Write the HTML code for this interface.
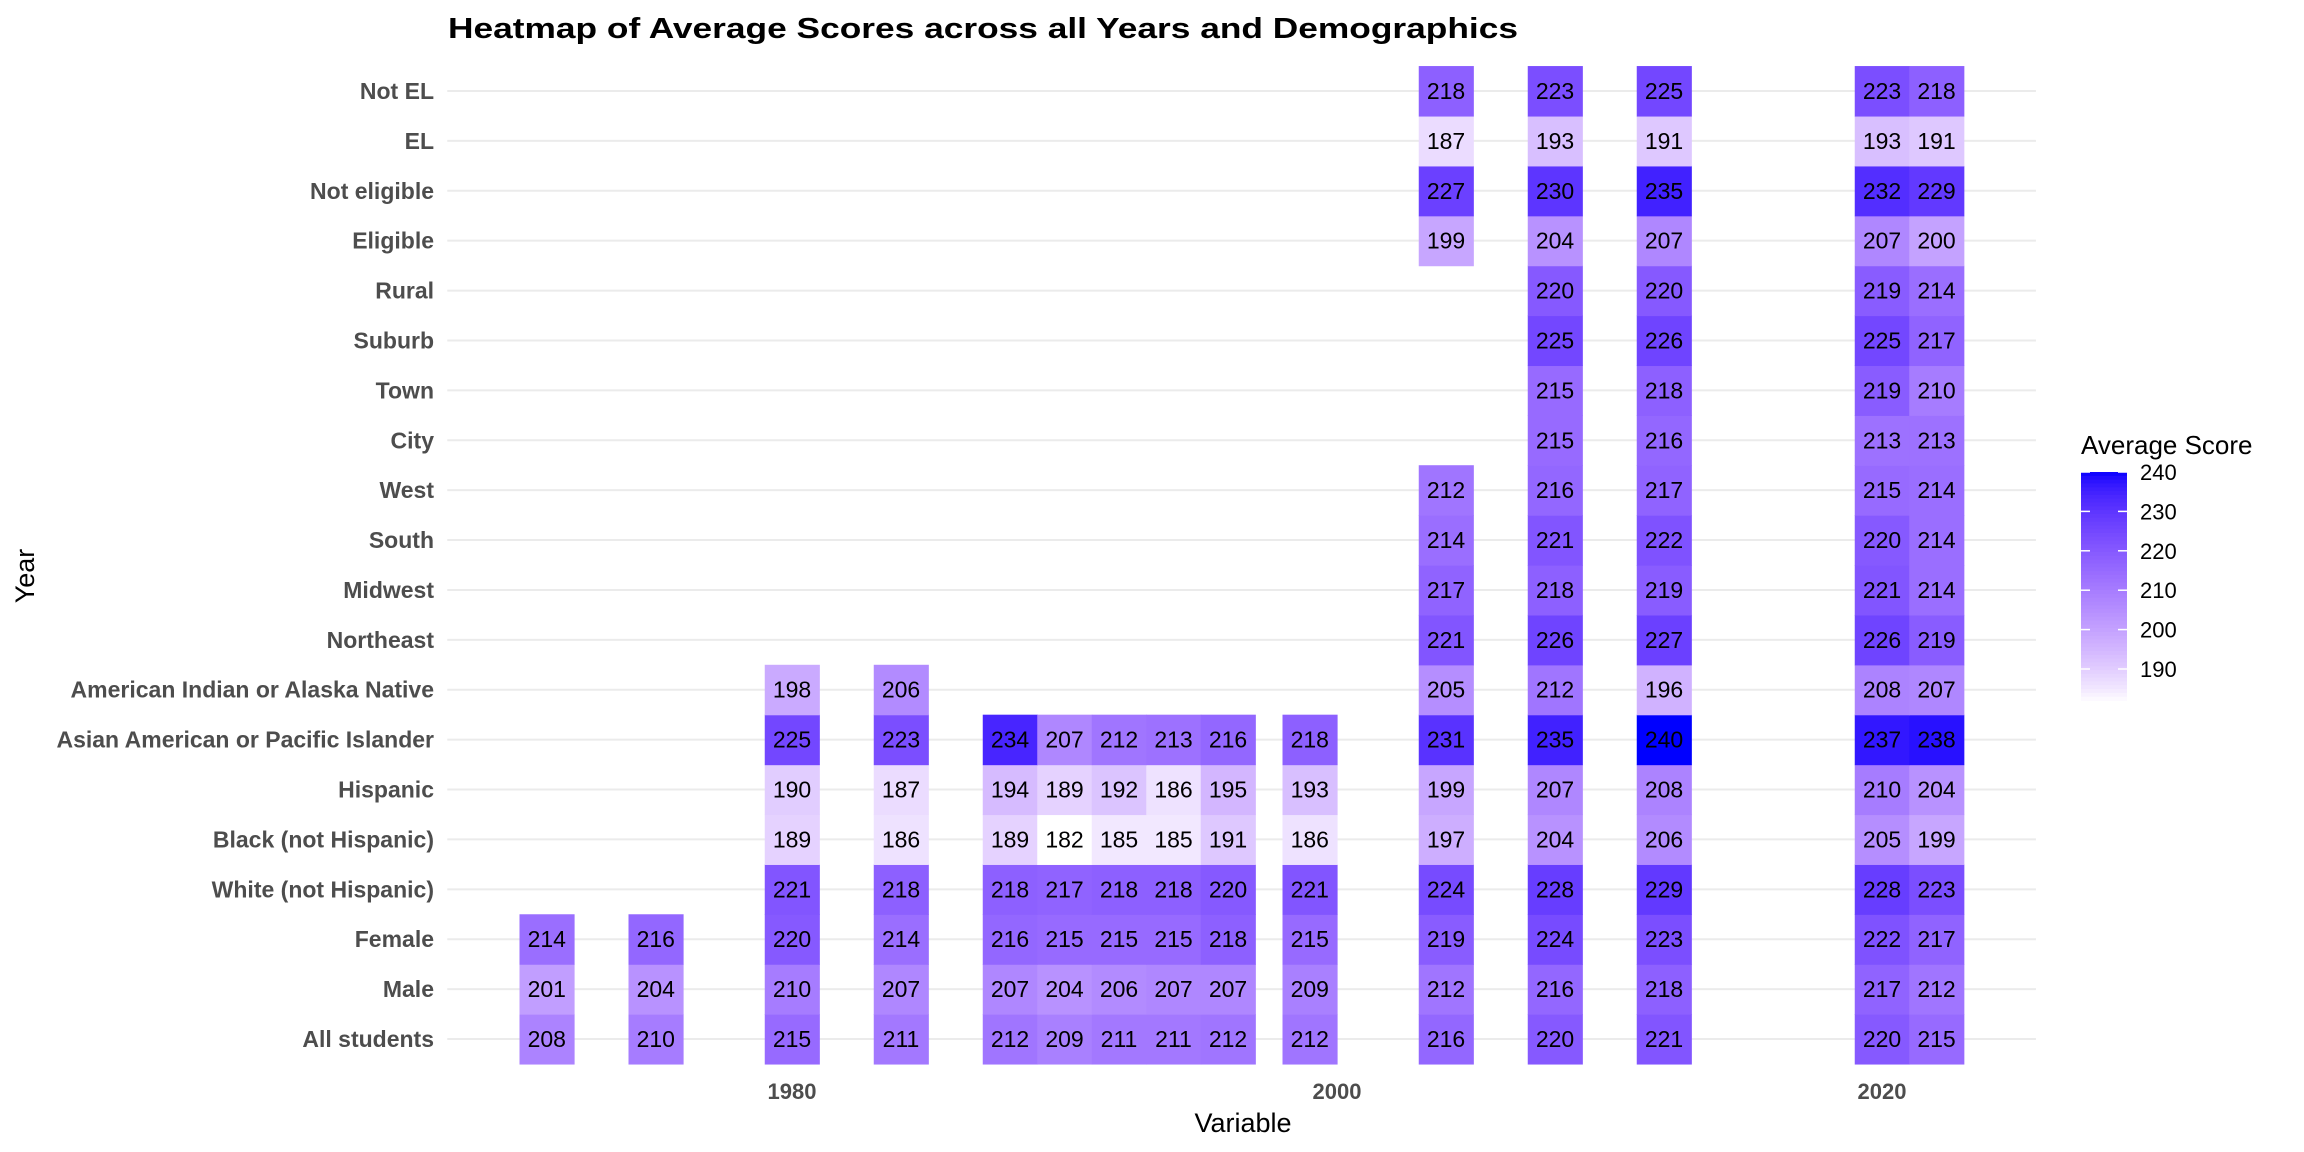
<!DOCTYPE html>
<html><head><meta charset="utf-8"><style>
html,body{margin:0;padding:0;background:#fff;}
svg{display:block;font-family:"Liberation Sans",Arial,sans-serif;}
</style></head><body>
<svg id="chart" width="2304" height="1152" viewBox="0 0 2304 1152" xmlns="http://www.w3.org/2000/svg">
<text x="448" y="38" font-size="29" font-weight="bold" fill="#000" textLength="1070" lengthAdjust="spacingAndGlyphs">Heatmap of Average Scores across all Years and Demographics</text>
<g id="grid"></g>
<g id="cells"></g>
<g id="ylabels"></g>
<g id="xlabels"></g>
<text x="1243" y="1132" font-size="27" text-anchor="middle" fill="#000">Variable</text>
<text transform="translate(34,576) rotate(-90)" font-size="27" text-anchor="middle" fill="#000">Year</text>
<g id="legend">
<text x="2081" y="454" font-size="26" fill="#000">Average Score</text>
</g>
</svg>
<script>
const years = [1971,1975,1980,1984,1988,1990,1992,1994,1996,1999,2004,2008,2012,2020,2022];
const groups = ["All students","Male","Female","White (not Hispanic)","Black (not Hispanic)","Hispanic","Asian American or Pacific Islander","American Indian or Alaska Native","Northeast","Midwest","South","West","City","Town","Suburb","Rural","Eligible","Not eligible","EL","Not EL"];
const N = null;
const allStudents = [208,210,215,211,212,209,211,211,212,212,216,220,221,220,215];
const male = [201,204,210,207,207,204,206,207,207,209,212,216,218,217,212];
const female = [214,216,220,214,216,215,215,215,218,215,219,224,223,222,217];
const white = [N,N,221,218,218,217,218,218,220,221,224,228,229,228,223];
const black = [N,N,189,186,189,182,185,185,191,186,197,204,206,205,199];
const hispanic = [N,N,190,187,194,189,192,186,195,193,199,207,208,210,204];
const asian = [N,N,225,223,234,207,212,213,216,218,231,235,240,237,238];
const amIndian = [N,N,198,206,N,N,N,N,N,N,205,212,196,208,207];
const northeast = [N,N,N,N,N,N,N,N,N,N,221,226,227,226,219];
const midwest = [N,N,N,N,N,N,N,N,N,N,217,218,219,221,214];
const south = [N,N,N,N,N,N,N,N,N,N,214,221,222,220,214];
const west = [N,N,N,N,N,N,N,N,N,N,212,216,217,215,214];
const city = [N,N,N,N,N,N,N,N,N,N,N,215,216,213,213];
const town = [N,N,N,N,N,N,N,N,N,N,N,215,218,219,210];
const suburb = [N,N,N,N,N,N,N,N,N,N,N,225,226,225,217];
const rural = [N,N,N,N,N,N,N,N,N,N,N,220,220,219,214];
const eligible = [N,N,N,N,N,N,N,N,N,N,199,204,207,207,200];
const notEligible = [N,N,N,N,N,N,N,N,N,N,227,230,235,232,229];
const el = [N,N,N,N,N,N,N,N,N,N,187,193,191,193,191];
const notEl = [N,N,N,N,N,N,N,N,N,N,218,223,225,223,218];
const xTicks = [1980,2000,2020];
const legendTicks = [190,200,210,220,230,240];
const values = [allStudents,male,female,white,black,hispanic,asian,amIndian,northeast,midwest,south,west,city,town,suburb,rural,eligible,notEligible,el,notEl];

const NS = "http://www.w3.org/2000/svg";
const pxPerYear = 27.25;
const xScale = y => 792 + (y - 1980) * pxPerYear;
const rowH = (1039 - 91) / 19;
const yScale = i => 1039 - i * rowH;
const allVals = values.flat().filter(v => v !== null);
const vmin = Math.min(...allVals), vmax = Math.max(...allVals);

function lab2rgb(L,a,b){
  let y=(L+16)/116, x=a/500+y, z=y-b/200;
  const f=t=>{const t3=t*t*t;return t3>0.008856?t3:(t-16/116)/7.787;};
  x=0.95047*f(x); y=1.0*f(y); z=1.08883*f(z);
  let r=x*3.2406+y*-1.5372+z*-0.4986, g=x*-0.9689+y*1.8758+z*0.0415, bb=x*0.0557+y*-0.2040+z*1.0570;
  const c=v=>{v=v>0.0031308?1.055*Math.pow(v,1/2.4)-0.055:12.92*v;return Math.round(Math.max(0,Math.min(1,v))*255);};
  return `rgb(${c(r)},${c(g)},${c(bb)})`;
}
function color(v){
  let t=Math.max(0,Math.min(1,(v-vmin)/(vmax-vmin)));
  t=Math.pow(t,0.78);
  return lab2rgb(100+(32.3-100)*t, 79.19*t, -107.86*t);
}
function mk(tag, attrs, parent){const e=document.createElementNS(NS,tag);for(const k in attrs)e.setAttribute(k,attrs[k]);parent.appendChild(e);return e;}

const grid=document.getElementById('grid'), cells=document.getElementById('cells'), yl=document.getElementById('ylabels'), xl=document.getElementById('xlabels'), leg=document.getElementById('legend');
const x0 = xScale(1967.35), x1 = xScale(2025.65);
groups.forEach((g,i)=>{
  const ln=mk('line',{x1:x0,x2:x1,y1:yScale(i),y2:yScale(i),stroke:'#ebebeb','stroke-width':2},grid);
  
  
  const t=mk('text',{x:434,y:yScale(i)+8,'font-size':23,'font-weight':'bold','text-anchor':'end',fill:'#4d4d4d'},yl);
  t.textContent=g;
  
  
});
values.forEach((row,i)=>{
  row.forEach((v,j)=>{
    if(v===null)return;
    const cx=xScale(years[j]), cy=yScale(i);
    const r=mk('rect',{x:cx-pxPerYear,y:cy-rowH/2,width:pxPerYear*2+0.6,height:rowH+0.6,fill:color(v)},cells);
    
    
    const t=mk('text',{x:cx,y:cy+8,'font-size':23,'text-anchor':'middle',fill:'#000'},cells);
    t.textContent=v;
    
    
  });
});
xTicks.forEach(y=>{
  const t=mk('text',{x:xScale(y),y:1099,'font-size':22,'font-weight':'bold','text-anchor':'middle',fill:'#4d4d4d'},xl);
  t.textContent=y;
  
  
});
const barTop=472, pxPerUnit=3.94, barX=2081, barW=46;
const ly = v => barTop + (240 - v) * pxPerUnit;
const steps=60;
for(let k=0;k<steps;k++){
  const va=vmax-(vmax-vmin)*k/steps, vb=vmax-(vmax-vmin)*(k+1)/steps;
  const r=mk('rect',{x:barX,y:ly(va),width:barW,height:ly(vb)-ly(va)+0.5,fill:color((va+vb)/2)},leg);
  
  
}
legendTicks.forEach(v=>{
  const a=mk('line',{x1:barX,x2:barX+9,y1:ly(v),y2:ly(v),stroke:'#fff','stroke-width':1.5},leg);
  
  
  const b=mk('line',{x1:barX+barW-9,x2:barX+barW,y1:ly(v),y2:ly(v),stroke:'#fff','stroke-width':1.5},leg);
  
  
  const t=mk('text',{x:2140,y:ly(v)+8,'font-size':22,fill:'#000'},leg);
  t.textContent=v;
  
  
});
</script>
</body></html>
